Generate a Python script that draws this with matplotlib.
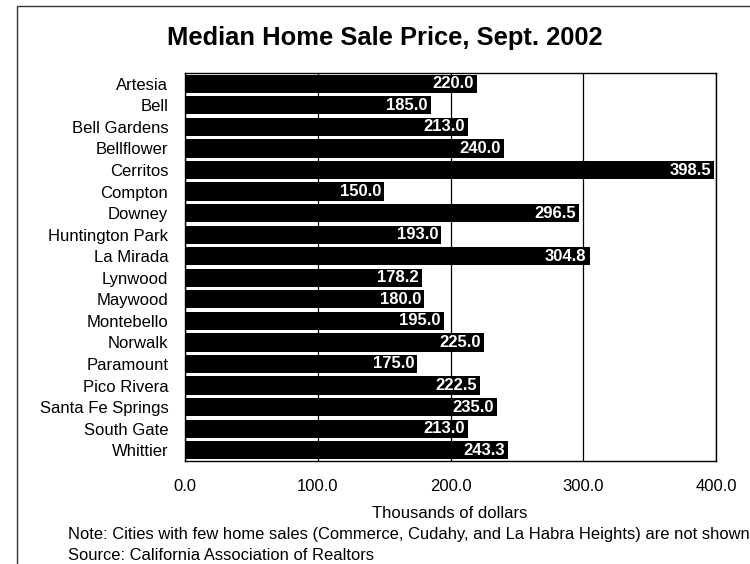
import matplotlib
matplotlib.use('Agg')
import matplotlib.pyplot as plt
from matplotlib.patches import Rectangle

#%% Data
cities = ['Artesia', 'Bell', 'Bell Gardens', 'Bellflower', 'Cerritos', 'Compton',
          'Downey', 'Huntington Park', 'La Mirada', 'Lynwood', 'Maywood',
          'Montebello', 'Norwalk', 'Paramount', 'Pico Rivera', 'Santa Fe Springs',
          'South Gate', 'Whittier']
prices = [220.0, 185.0, 213.0, 240.0, 398.5, 150.0, 296.5, 193.0, 304.8, 178.2,
          180.0, 195.0, 225.0, 175.0, 222.5, 235.0, 213.0, 243.3]
xticks = [0, 100, 200, 300, 400]

title = 'Median Home Sale Price, Sept. 2002'
xlabel = 'Thousands of dollars'
note = 'Note: Cities with few home sales (Commerce, Cudahy, and La Habra Heights) are not shown'
source = 'Source: California Association of Realtors'

plt.rcParams['font.family'] = ['Liberation Sans', 'DejaVu Sans']

#%% Figure
W, H = 750, 564
fig = plt.figure(figsize=(W / 100, H / 100), dpi=100)
ax = fig.add_axes([185 / W, 1 - 461 / H, 531 / W, 388 / H])

pos = list(range(len(cities)))
ax.barh(pos, prices, height=0.85, color='black', zorder=2)

for i, v in enumerate(prices):
    ax.annotate(f'{v:.1f}', xy=(v, i), xytext=(-3, 0), textcoords='offset pixels',
                ha='right', va='center', color='white', fontweight='bold',
                fontsize=12, zorder=3)

ax.set_xlim(0, 400)
ax.set_ylim(len(cities) - 0.5, -0.5)
ax.set_yticks(pos)
ax.set_yticklabels(cities, fontsize=12)
ax.set_xticks(xticks)
ax.set_xticklabels([f'{t:.1f}' for t in xticks], fontsize=12)
ax.tick_params(axis='y', length=0, pad=12)
ax.tick_params(axis='x', length=0, pad=13)
ax.grid(axis='x', color='black', linewidth=0.9, zorder=1)
ax.grid(axis='y', visible=False)
for s in ax.spines.values():
    s.set_linewidth(1.0)
    s.set_color('black')

# textos
fig.text(385 / W, 1 - 37.5 / H, title, ha='center', va='center',
         fontsize=18.4, fontweight='bold')
fig.text(450 / W, 1 - 513 / H, xlabel, ha='center', va='center', fontsize=12)
fig.text(68 / W, 1 - 534 / H, note, ha='left', va='center', fontsize=11.85)
fig.text(68 / W, 1 - 556 / H, source, ha='left', va='center', fontsize=11.85)

# moldura externa (so lados esquerdo e superior aparecem)
fig.add_artist(Rectangle((17 / W, -0.1), 1.2, 1 - 6 / H + 0.1,
                         transform=fig.transFigure, fill=False,
                         edgecolor='#333333', linewidth=1.0))

fig.savefig('out.png', dpi=100)
